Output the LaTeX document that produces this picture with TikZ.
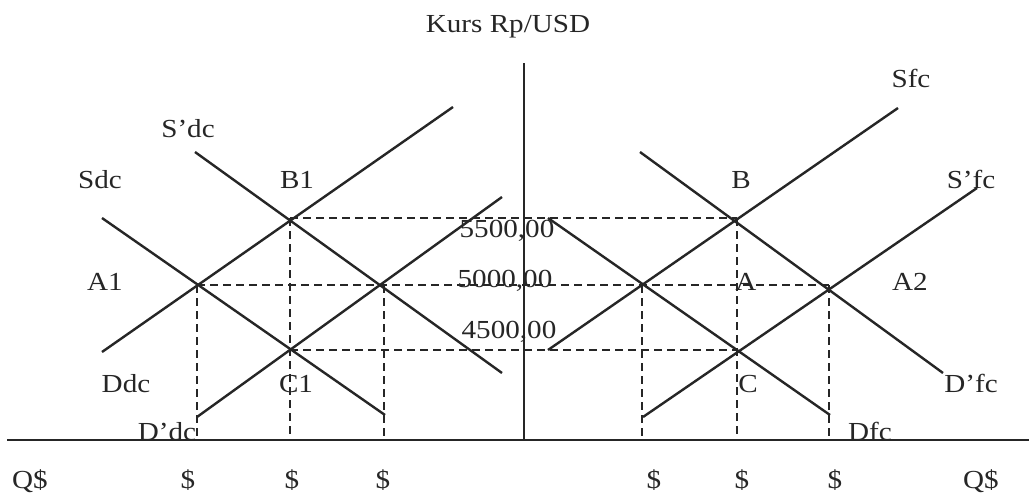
\documentclass[tikz,border=0pt]{standalone}
\usepackage{fontspec}
\setmainfont{Liberation Serif}
\definecolor{ink}{HTML}{262626}
\begin{document}
\begin{tikzpicture}[x=1pt,y=-1pt,
  curve/.style={line width=2.4pt, draw=ink},
  guide/.style={line width=1.6pt, dash pattern=on 8pt off 5pt, draw=ink},
  axisline/.style={line width=2.2pt, draw=ink},
  lbl/.style={anchor=base, inner sep=0pt, font=\fontsize{26}{28}\selectfont, xscale=1.12, text=ink}]
\useasboundingbox (0,0) rectangle (1029,496);
\fill[white] (0,0) rectangle (1029,496);

% axes
\coordinate (ytop) at (524,63);
\coordinate (yfoot) at (524,440);
\coordinate (xl) at (7,440);
\coordinate (xr) at (1029,440);
\draw[axisline] (ytop) -- (yfoot);
\draw[axisline] (xl) -- (xr);

% left curve end points
\coordinate (l1a) at (102,352); \coordinate (l1b) at (453,107);
\coordinate (l2a) at (102,218); \coordinate (l2b) at (385,415);
\coordinate (l3a) at (195,152); \coordinate (l3b) at (502,373);
\coordinate (l4a) at (197,417); \coordinate (l4b) at (502,197);
% right curve end points
\coordinate (r1a) at (548,350); \coordinate (r1b) at (898,108);
\coordinate (r2a) at (548,218); \coordinate (r2b) at (830,415);
\coordinate (r3a) at (640,152); \coordinate (r3b) at (943,373);
\coordinate (r4a) at (643,417); \coordinate (r4b) at (977,188);

% intersections
\coordinate (pA1) at (197,285);
\coordinate (pB1) at (290,218);
\coordinate (pC1) at (290,350);
\coordinate (pE1) at (384,285);
\coordinate (pA) at (642,285);
\coordinate (pB) at (737,218);
\coordinate (pC) at (737,350);
\coordinate (pA2) at (829,285);
% feet on the horizontal axis
\coordinate (fA1) at (197,440);
\coordinate (fB1) at (290,440);
\coordinate (fE1) at (384,440);
\coordinate (fA) at (642,440);
\coordinate (fB) at (737,440);
\coordinate (fA2) at (829,440);

% guides
\draw[guide] (pB1) -- (pB);
\draw[guide] (pA1) -- (pA2);
\draw[guide] (pC1) -- (pC);
\draw[guide] (pA1) -- (fA1);
\draw[guide] (pB1) -- (fB1);
\draw[guide] (pE1) -- (fE1);
\draw[guide] (pA) -- (fA);
\draw[guide] (pB) -- (fB);
\draw[guide] (pA2) -- (fA2);

% curves
\draw[curve] (l1a) -- (l1b);
\draw[curve] (l2a) -- (l2b);
\draw[curve] (l3a) -- (l3b);
\draw[curve] (l4a) -- (l4b);
\draw[curve] (r1a) -- (r1b);
\draw[curve] (r2a) -- (r2b);
\draw[curve] (r3a) -- (r3b);
\draw[curve] (r4a) -- (r4b);

% labels
\node[lbl] (title) at (508,32) {Kurs Rp/USD};
\node[lbl] (tSpdc) at (188,137) {S’dc};
\node[lbl] (tSdc) at (100,188) {Sdc};
\node[lbl] (tB1) at (297,188) {B1};
\node[lbl] (tA1) at (105,290) {A1};
\node[lbl] (tDdc) at (126,392) {Ddc};
\node[lbl] (tC1) at (296,392) {C1};
\node[lbl] (tDpdc) at (167,440) {D’dc};
\node[lbl] (t55) at (507,237) {5500,00};
\node[lbl] (t50) at (505,287) {5000,00};
\node[lbl] (t45) at (509,338) {4500,00};
\node[lbl] (tSfc) at (911,87) {Sfc};
\node[lbl] (tB) at (741,188) {B};
\node[lbl] (tSpfc) at (971,188) {S’fc};
\node[lbl] (tA) at (746,290) {A};
\node[lbl] (tA2) at (910,290) {A2};
\node[lbl] (tC) at (748,392) {C};
\node[lbl] (tDpfc) at (971,392) {D’fc};
\node[lbl] (tDfc) at (870,440) {Dfc};
\node[lbl] (tQl) at (30,488) {Q\$};
\node[lbl] (td1) at (188,488) {\$};
\node[lbl] (td2) at (292,488) {\$};
\node[lbl] (td3) at (383,488) {\$};
\node[lbl] (td4) at (654,488) {\$};
\node[lbl] (td5) at (742,488) {\$};
\node[lbl] (td6) at (835,488) {\$};
\node[lbl] (tQr) at (981,488) {Q\$};
\end{tikzpicture}
\end{document}
